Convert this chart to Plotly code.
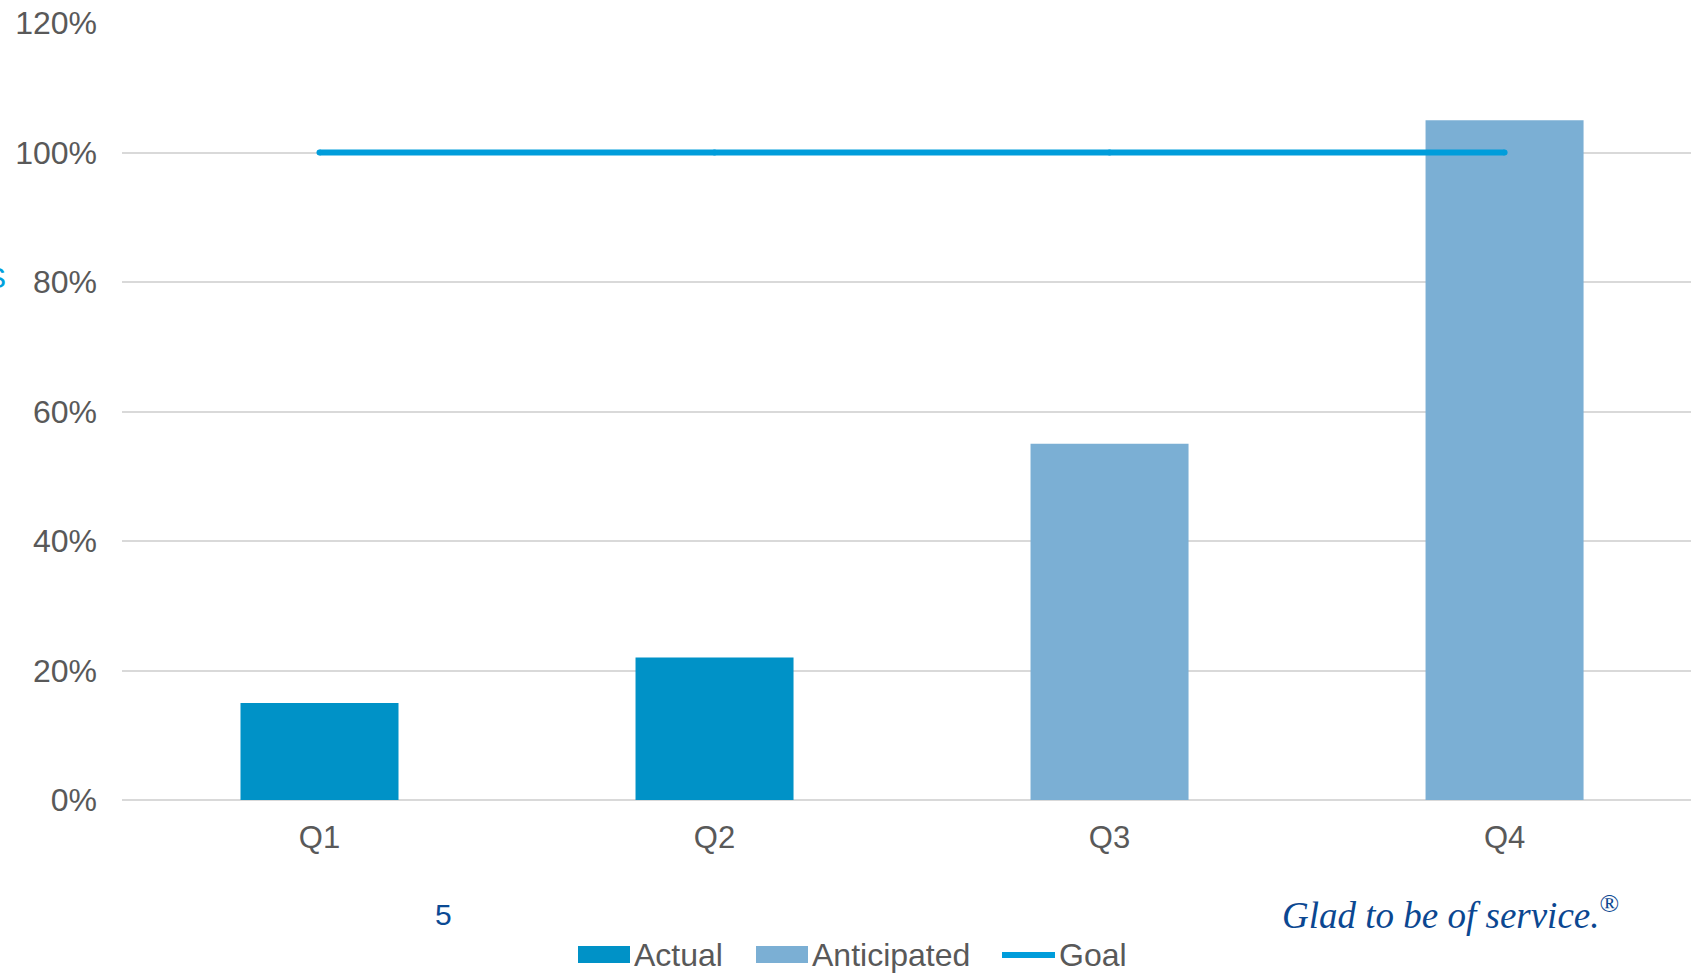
import plotly.graph_objects as go

categories = ["Q1", "Q2", "Q3", "Q4"]
actual = [0.15, 0.22, None, None]
anticipated = [None, None, 0.55, 1.05]
goal = [1.0, 1.0, 1.0, 1.0]
y_ticks = [0, 0.2, 0.4, 0.6, 0.8, 1.0, 1.2]
legend_names = ["Actual", "Anticipated", "Goal"]

W, H = 1691, 973
L, R, T, B = 122, 0, 23, 173
PW, PH = W - L - R, H - T - B

C_ACT = "#0092C7"
C_ANT = "#7BAFD4"
C_GOAL = "#009DDB"
TXT = "#595959"
FONT = "Liberation Sans, Arial, sans-serif"


def px(x):
    return (x - L) / PW


def py(y):
    return (H - B - y) / PH


fig = go.Figure()
fig.add_trace(go.Bar(x=categories, y=actual, name=legend_names[0],
                     marker=dict(color=C_ACT, line=dict(width=0)), width=0.4))
fig.add_trace(go.Bar(x=categories, y=anticipated, name=legend_names[1],
                     marker=dict(color=C_ANT, line=dict(width=0)), width=0.4))
fig.add_trace(go.Scatter(x=categories, y=goal, name=legend_names[2], mode="lines+markers",
                         line=dict(color=C_GOAL, width=6),
                         marker=dict(color=C_GOAL, size=6, line=dict(width=0))))

LEG_Y = 955
shapes = [
    dict(type="rect", xref="paper", yref="paper", x0=px(578), x1=px(630), y0=py(LEG_Y - 9), y1=py(LEG_Y + 8),
         fillcolor=C_ACT, line=dict(width=0)),
    dict(type="rect", xref="paper", yref="paper", x0=px(756), x1=px(808), y0=py(LEG_Y - 9), y1=py(LEG_Y + 8),
         fillcolor=C_ANT, line=dict(width=0)),
    dict(type="line", xref="paper", yref="paper", x0=px(1002), x1=px(1055), y0=py(LEG_Y), y1=py(LEG_Y),
         line=dict(color=C_GOAL, width=6)),
]

annotations = [
    dict(text=legend_names[0], x=px(633), y=py(LEG_Y), xanchor="left", yanchor="middle"),
    dict(text=legend_names[1], x=px(811), y=py(LEG_Y), xanchor="left", yanchor="middle"),
    dict(text=legend_names[2], x=px(1058), y=py(LEG_Y), xanchor="left", yanchor="middle"),
]
for a in annotations:
    a.update(xref="paper", yref="paper", showarrow=False, borderpad=0,
             font=dict(family=FONT, size=32, color=TXT))

annotations.append(dict(text="5", x=px(443), y=py(914), xref="paper", yref="paper",
                        xanchor="center", yanchor="middle", showarrow=False,
                        font=dict(family=FONT, size=30, color="#0B4A94")))
annotations.append(dict(text="<i>Glad to be of service.</i><sup>®</sup>", x=px(1280), y=py(912),
                        xref="paper", yref="paper", xanchor="left", yanchor="middle",
                        showarrow=False,
                        font=dict(family="Liberation Serif, Times New Roman, serif", size=37,
                                  color="#0B4791")))
annotations.append(dict(text="S", x=px(8), y=py(277), xref="paper", yref="paper",
                        xanchor="right", yanchor="middle", showarrow=False,
                        font=dict(family=FONT, size=30, color="#00A0DC")))

fig.update_layout(
    width=W, height=H,
    margin=dict(l=L, r=R, t=T, b=B, pad=0),
    paper_bgcolor="white", plot_bgcolor="white",
    barmode="overlay",
    showlegend=False,
    shapes=shapes,
    annotations=annotations,
    xaxis=dict(range=[-0.5, 3.472], showgrid=False, showline=False, zeroline=False, ticks="",
               tickfont=dict(family=FONT, size=31, color=TXT), ticklabelstandoff=16),
    yaxis=dict(range=[0, 1.2], tickvals=y_ticks, tickformat=".0%",
               showgrid=True, gridcolor="#D9D9D9", gridwidth=2,
               zeroline=True, zerolinecolor="#D9D9D9", zerolinewidth=2,
               showline=False, ticks="",
               tickfont=dict(family=FONT, size=32, color=TXT), ticklabelstandoff=24),
)

fig.write_html("out.html", config={"displayModeBar": False},
               post_script="document.body.style.margin='0';document.body.style.overflow='hidden';")
